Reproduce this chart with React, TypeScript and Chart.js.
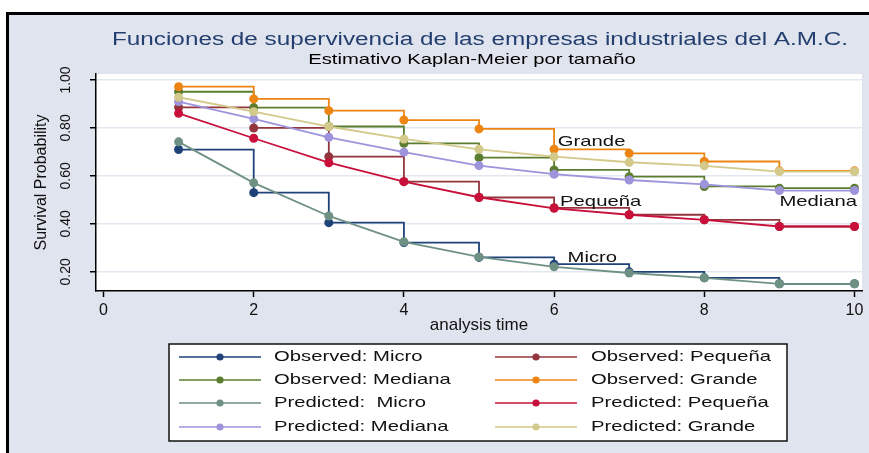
import { useEffect, useRef } from "react";
import { Chart, registerables } from "chart.js";

Chart.register(...registerables);

// ---------- data ----------
const times = [1, 2, 3, 4, 5, 6, 7, 8, 9, 10];

const observedMicro = [0.71, 0.53, 0.405, 0.322, 0.26, 0.232, 0.2, 0.175, 0.15, 0.15];
const observedPequena = [0.886, 0.8, 0.68, 0.576, 0.51, 0.467, 0.438, 0.417, 0.389, 0.389];
const observedMediana = [0.951, 0.885, 0.806, 0.736, 0.676, 0.625, 0.597, 0.556, 0.549, 0.549];
const observedGrande = [0.972, 0.921, 0.872, 0.833, 0.796, 0.711, 0.694, 0.66, 0.621, 0.621];

const predictedMicro = [0.742, 0.571, 0.433, 0.325, 0.262, 0.221, 0.195, 0.175, 0.15, 0.15];
const predictedPequena = [0.861, 0.757, 0.655, 0.576, 0.511, 0.465, 0.438, 0.417, 0.389, 0.389];
const predictedMediana = [0.91, 0.838, 0.761, 0.699, 0.643, 0.607, 0.583, 0.565, 0.539, 0.539];
const predictedGrande = [0.928, 0.868, 0.806, 0.754, 0.711, 0.68, 0.657, 0.642, 0.618, 0.618];

const seriesLabels = [
  "Observed: Micro",
  "Observed: Pequeña",
  "Observed: Mediana",
  "Observed: Grande",
  "Predicted:  Micro",
  "Predicted: Pequeña",
  "Predicted: Mediana",
  "Predicted: Grande",
];

const xTicks = [0, 2, 4, 6, 8, 10];
const yTicks = [0.2, 0.4, 0.6, 0.8, 1.0];

const annotationTexts = ["Grande", "Pequeña", "Mediana", "Micro"];
const annotationX = [6.05, 6.08, 9.0, 6.18];
const annotationY = [0.743, 0.49, 0.492, 0.257];

const titleText = "Funciones de supervivencia de las empresas industriales del A.M.C.";
const subtitleText = "Estimativo Kaplan-Meier por tamaño";
const xTitle = "analysis time";
const yTitle = "Survival Probability";

// ---------- styles ----------
const FAMILY = '"Liberation Sans", Arial, sans-serif';
const SX = 1.35;
const colors = {
  obsMicro: "#1f4279",
  obsPeq: "#93353d",
  obsMed: "#5b7d2f",
  obsGra: "#ec8514",
  predMicro: "#6f9184",
  predPeq: "#c8103a",
  predMed: "#9d94dc",
  predGra: "#d3c98b",
};

function stretchedText(
  ctx: CanvasRenderingContext2D,
  text: string,
  x: number,
  y: number,
  font: string,
  color: string,
  align: CanvasTextAlign,
  sx = SX
) {
  ctx.save();
  ctx.font = font;
  ctx.fillStyle = color;
  ctx.textBaseline = "middle";
  ctx.textAlign = align;
  ctx.translate(x, y);
  ctx.scale(sx, 1);
  ctx.fillText(text, 0, 0);
  ctx.restore();
}

const decorPlugin = {
  id: "decor",
  beforeDraw(chart: any) {
    const { ctx, chartArea: a } = chart;
    ctx.save();
    ctx.fillStyle = "#ffffff";
    ctx.fillRect(a.left, a.top, a.right - a.left, a.bottom - a.top);
    ctx.restore();
  },
  afterDraw(chart: any) {
    const { ctx, chartArea: a, scales } = chart;
    const cx = (a.left + a.right) / 2;
    stretchedText(ctx, titleText, cx + 1, 40, `18px ${FAMILY}`, "#233f70", "center");
    stretchedText(ctx, subtitleText, cx - 7, 60, `15px ${FAMILY}`, "#000000", "center");

    // in-plot labels
    annotationTexts.forEach((t, i) => {
      const px = scales.x.getPixelForValue(annotationX[i]);
      const py = scales.y.getPixelForValue(annotationY[i]);
      stretchedText(ctx, t, px, py, `15px ${FAMILY}`, "#111111", "left");
    });

    // legend box
    const box = { x: 169, y: 344, w: 618, h: 97 };
    ctx.save();
    ctx.fillStyle = "#ffffff";
    ctx.fillRect(box.x, box.y, box.w, box.h);
    ctx.strokeStyle = "#111111";
    ctx.lineWidth = 1.5;
    ctx.strokeRect(box.x, box.y, box.w, box.h);
    ctx.restore();

    const rows = [357, 380, 403, 427];
    const cols = [
      { l0: 179, l1: 261, m: 220, t: 274 },
      { l0: 495, l1: 577, m: 536, t: 591 },
    ];
    const ds = chart.data.datasets;
    ds.forEach((d: any, i: number) => {
      const r = Math.floor(i / 2);
      const c = cols[i % 2];
      const y = rows[r];
      ctx.save();
      ctx.strokeStyle = d.borderColor;
      ctx.lineWidth = 1.5;
      ctx.beginPath();
      ctx.moveTo(c.l0, y);
      ctx.lineTo(c.l1, y);
      ctx.stroke();
      ctx.fillStyle = d.borderColor;
      ctx.beginPath();
      ctx.arc(c.m, y, 3.6, 0, Math.PI * 2);
      ctx.fill();
      ctx.restore();
      stretchedText(ctx, d.label, c.t, y, `15px ${FAMILY}`, "#111111", "left");
    });
  },
};

function toPoints(vals: number[]) {
  return times.map((t, i) => ({ x: t, y: vals[i] }));
}

export default function App() {
  const ref = useRef<HTMLCanvasElement | null>(null);

  useEffect(() => {
    if (!ref.current) return;
    const series = [
      { vals: observedMicro, color: colors.obsMicro, stepped: true },
      { vals: observedPequena, color: colors.obsPeq, stepped: true },
      { vals: observedMediana, color: colors.obsMed, stepped: true },
      { vals: observedGrande, color: colors.obsGra, stepped: true },
      { vals: predictedMicro, color: colors.predMicro, stepped: false },
      { vals: predictedPequena, color: colors.predPeq, stepped: false },
      { vals: predictedMediana, color: colors.predMed, stepped: false },
      { vals: predictedGrande, color: colors.predGra, stepped: false },
    ];
    const datasets = series.map((s, i) => ({
      label: seriesLabels[i],
      data: toPoints(s.vals),
      borderColor: s.color,
      backgroundColor: s.color,
      pointBackgroundColor: s.color,
      pointBorderColor: s.color,
      pointBorderWidth: 0,
      pointRadius: 4.5,
      borderWidth: 1.8,
      stepped: s.stepped ? ("before" as const) : false,
      tension: 0,
      fill: false,
      order: series.length - 1 - i,
    }));

    const chart = new Chart(ref.current, {
      type: "line",
      data: { datasets },
      options: {
        responsive: false,
        animation: false,
        layout: { padding: { left: 26, right: 7, top: 74, bottom: 117 } },
        plugins: {
          legend: { display: false },
          tooltip: { enabled: false },
          title: { display: false },
        },
        scales: {
          x: {
            type: "linear",
            min: -0.1,
            max: 10.1,
            afterBuildTicks: (s: any) => {
              s.ticks = xTicks.map((v) => ({ value: v }));
            },
            afterFit: (s: any) => {
              s.height = 45;
              s.paddingLeft = 0;
              s.paddingRight = 0;
            },
            grid: {
              drawOnChartArea: false,
              drawTicks: true,
              tickLength: 6,
              tickColor: "#000",
              tickWidth: 1.5,
            },
            border: { color: "#000", width: 1.5 },
            ticks: {
              font: { family: FAMILY, size: 16 },
              color: "#111",
              padding: 4,
              maxRotation: 0,
              minRotation: 0,
              callback: (v: any) => String(v),
            },
            title: {
              display: true,
              text: xTitle,
              font: { family: FAMILY, size: 17 },
              color: "#111",
              padding: 0,
            },
          },
          y: {
            type: "linear",
            min: 0.12,
            max: 1.025,
            afterBuildTicks: (s: any) => {
              s.ticks = yTicks.map((v) => ({ value: v }));
            },
            afterFit: (s: any) => {
              s.width = 70;
              s.paddingTop = 0;
              s.paddingBottom = 0;
            },
            grid: {
              color: "#e3e7ef",
              lineWidth: 1.5,
              tickColor: "#000",
              tickLength: 6,
              tickWidth: 1.5,
            },
            border: { color: "#000", width: 1.5 },
            ticks: {
              font: { family: FAMILY, size: 14 },
              color: "#111",
              minRotation: 90,
              maxRotation: 90,
              crossAlign: "center",
              padding: 10,
              callback: (v: any) => Number(v).toFixed(2),
            },
            title: {
              display: true,
              text: yTitle,
              font: { family: FAMILY, size: 16 },
              color: "#111",
              padding: { top: 6, bottom: 0 },
            },
          },
        },
      },
      plugins: [decorPlugin],
    });
    return () => chart.destroy();
  }, []);

  return (
    <div
      style={{
        position: "absolute",
        left: 0,
        top: 0,
        width: 869,
        height: 453,
        background: "#ffffff",
        overflow: "hidden",
      }}
    >
      <div
        style={{
          position: "absolute",
          left: 6,
          top: 12,
          width: 863,
          height: 441,
          boxSizing: "border-box",
          borderLeft: "3px solid #000",
          borderTop: "3px solid #000",
          background: "#e0e4ee",
        }}
      />
      <canvas
        ref={ref}
        width={869}
        height={453}
        style={{ position: "absolute", left: 0, top: 0, width: 869, height: 453 }}
      />
    </div>
  );
}
